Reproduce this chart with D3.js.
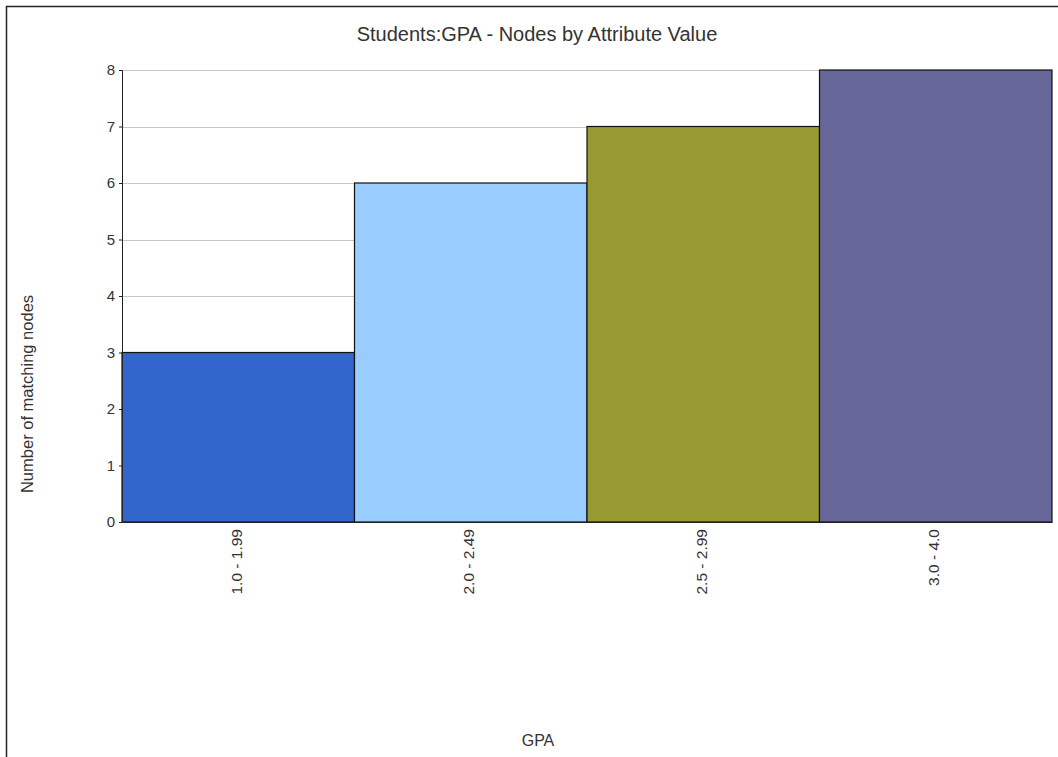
<!DOCTYPE html>
<html>
<head>
<meta charset="utf-8">
<script src="https://cdn.jsdelivr.net/npm/d3@7"></script>
<style>
  body { margin: 0; background: #fff; }
  text { font-family: "Liberation Sans", Arial, sans-serif; fill: #333; }
</style>
</head>
<body>
<div id="chart"></div>
<script>
// data
var categories = ["1.0 - 1.99", "2.0 - 2.49", "2.5 - 2.99", "3.0 - 4.0"];
var counts = [3, 6, 7, 8];
var barColors = ["#3366cc", "#99ccff", "#999933", "#666699"];
var yTicks = [0, 1, 2, 3, 4, 5, 6, 7, 8];

var svgWidth = 1058, svgHeight = 757;
var margin = { left: 122, right: 6, top: 70, bottom: 235 };
var width = svgWidth - margin.left - margin.right,
    height = svgHeight - margin.top - margin.bottom;

var svg = d3.select("#chart").append("svg")
    .attr("width", svgWidth)
    .attr("height", svgHeight);

// outer frame
svg.append("rect")
  .attr("x", 6.5).attr("y", 6.5)
  .attr("width", svgWidth).attr("height", svgHeight)
  .attr("fill", "none").attr("stroke", "#222").attr("stroke-width", 1.5);

var chartGroup = svg.append("g")
  .attr("transform", `translate(${margin.left}, ${margin.top})`);

var xScale = d3.scaleBand().domain(categories).range([0, width]).padding(0);
var yScale = d3.scaleLinear().domain([0, 8]).range([height, 0]);

// gridlines
chartGroup.append("g")
  .selectAll("line")
  .data(yTicks.filter(d => d > 0))
  .enter().append("line")
  .attr("x1", 0).attr("x2", width)
  .attr("y1", d => Math.round(yScale(d)) + 0.5)
  .attr("y2", d => Math.round(yScale(d)) + 0.5)
  .attr("stroke", "#c8c8c8");

// bars
chartGroup.selectAll("rect.bar")
  .data(counts)
  .enter().append("rect")
  .attr("class", "bar")
  .attr("x", (d, i) => xScale(categories[i]))
  .attr("y", d => yScale(d))
  .attr("width", xScale.bandwidth())
  .attr("height", d => height - yScale(d))
  .attr("fill", (d, i) => barColors[i])
  .attr("stroke", "#111")
  .attr("stroke-width", 1.2);

// y axis
var leftAxis = d3.axisLeft(yScale).tickValues(yTicks).tickSize(3).tickPadding(4);
var yAxisG = chartGroup.append("g").call(leftAxis);
yAxisG.select(".domain").attr("stroke", "#222");
yAxisG.selectAll(".tick line").attr("stroke", "#222");
yAxisG.selectAll("text").style("font-size", "15px").attr("fill", "#333");

// x axis
var bottomAxis = d3.axisBottom(xScale).tickSize(0).tickPadding(8);
var xAxisG = chartGroup.append("g")
  .attr("transform", `translate(0, ${height})`)
  .call(bottomAxis);
xAxisG.select(".domain").attr("stroke", "#222");
xAxisG.selectAll("text")
  .style("font-size", "15.5px")
  .attr("fill", "#333")
  .attr("transform", "rotate(-90)")
  .attr("text-anchor", "end")
  .attr("x", -7)
  .attr("y", -2)
  .attr("dy", "0.35em");

// title
svg.append("text")
  .attr("x", 537).attr("y", 41)
  .attr("text-anchor", "middle")
  .style("font-size", "20px")
  .text("Students:GPA - Nodes by Attribute Value");

// axis labels
svg.append("text")
  .attr("transform", "translate(33, 394) rotate(-90)")
  .attr("text-anchor", "middle")
  .style("font-size", "16.5px")
  .text("Number of matching nodes");

svg.append("text")
  .attr("x", 538).attr("y", 746)
  .attr("text-anchor", "middle")
  .style("font-size", "16px")
  .text("GPA");
</script>
</body>
</html>
